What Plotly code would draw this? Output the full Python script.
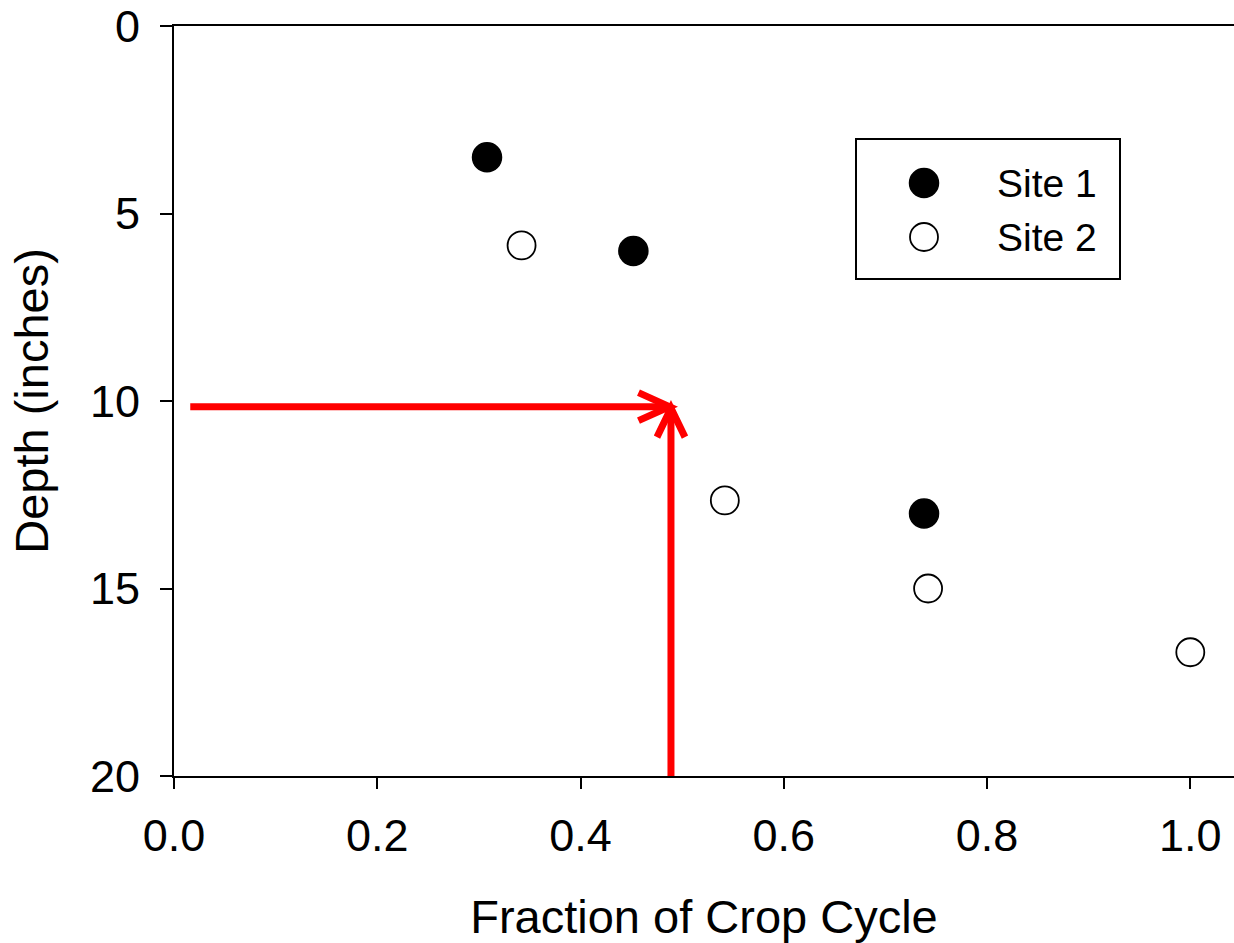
import plotly.graph_objects as go

# Observed rooting depth versus fraction of the crop cycle
site1_fraction = [0.308, 0.452, 0.738]
site1_depth = [3.5, 6.0, 13.0]

site2_fraction = [0.342, 0.542, 0.742, 1.0]
site2_depth = [5.85, 12.65, 15.0, 16.7]

series_names = ["Site 1", "Site 2"]

# Reading guide: depth 10 in. on the y axis -> fraction on the x axis
guide_start_fraction = 0.016
guide_depth = 10.15
guide_fraction = 0.489
guide_bottom_depth = 20.0

x_ticks = [0.0, 0.2, 0.4, 0.6, 0.8, 1.0]
x_tick_text = ["0.0", "0.2", "0.4", "0.6", "0.8", "1.0"]
y_ticks = [0, 5, 10, 15, 20]
y_tick_text = ["0", "5", "10", "15", "20"]

X_RANGE = [0.0, 1.043]
Y_RANGE = [20, 0]

W, H = 1234, 943
M = dict(l=174, r=0, t=26, b=167)
PLOT_W = W - M["l"] - M["r"]
PLOT_H = H - M["t"] - M["b"]
FONT = "Arial, 'Liberation Sans', sans-serif"

# pixel -> data unit conversion for drawing the chevron arrowheads
px_x = (X_RANGE[1] - X_RANGE[0]) / PLOT_W
px_y = (Y_RANGE[0] - Y_RANGE[1]) / PLOT_H


def paper_x(px):
    return (px - M["l"]) / PLOT_W


def paper_y(py):
    return 1 - (py - M["t"]) / PLOT_H


fig = go.Figure()

filled = dict(size=29, color="black", line=dict(color="black", width=1.5))
hollow = dict(size=28, color="white", line=dict(color="black", width=1.8))

fig.add_trace(go.Scatter(x=site1_fraction, y=site1_depth, mode="markers",
                         name=series_names[0], marker=filled, showlegend=False))
fig.add_trace(go.Scatter(x=site2_fraction, y=site2_depth, mode="markers",
                         name=series_names[1], marker=hollow, showlegend=False))

red = dict(color="#FF0000", width=7)
tip_h = (guide_fraction - 1.5 * px_x, guide_depth)
tip_v = (guide_fraction, guide_depth + 1.5 * px_y)

shapes = [
    # horizontal guide
    dict(type="line", xref="x", yref="y", x0=guide_start_fraction, y0=guide_depth,
         x1=tip_h[0] - 2 * px_x, y1=guide_depth, line=red),
    # vertical guide
    dict(type="line", xref="x", yref="y", x0=guide_fraction, y0=guide_bottom_depth,
         x1=guide_fraction, y1=tip_v[1] + 2 * px_y, line=red),
    # arrowheads (open chevrons)
    dict(type="path", xref="x", yref="y", line=red,
         path=(f"M {tip_h[0] - 31 * px_x},{tip_h[1] - 14 * px_y} "
               f"L {tip_h[0]},{tip_h[1]} "
               f"L {tip_h[0] - 31 * px_x},{tip_h[1] + 14 * px_y}")),
    dict(type="path", xref="x", yref="y", line=red,
         path=(f"M {tip_v[0] - 14 * px_x},{tip_v[1] + 29 * px_y} "
               f"L {tip_v[0]},{tip_v[1]} "
               f"L {tip_v[0] + 14 * px_x},{tip_v[1] + 29 * px_y}")),
    # legend frame
    dict(type="rect", xref="paper", yref="paper",
         x0=paper_x(856), x1=paper_x(1120), y0=paper_y(279), y1=paper_y(139),
         line=dict(color="black", width=2), fillcolor="white", layer="above"),
]

# legend entries: symbol + label
annotations = []
legend_rows = [183, 237]
legend_styles = [filled, hollow]
for name, row, sty in zip(series_names, legend_rows, legend_styles):
    r = sty["size"] / 2
    shapes.append(dict(
        type="circle", xref="paper", yref="paper",
        xsizemode="pixel", ysizemode="pixel",
        xanchor=paper_x(924), yanchor=paper_y(row),
        x0=-r, x1=r, y0=-r, y1=r,
        fillcolor=sty["color"], line=dict(color="black", width=sty["line"]["width"]),
        layer="above",
    ))
    annotations.append(dict(
        xref="paper", yref="paper", x=paper_x(995), y=paper_y(row),
        xanchor="left", yanchor="middle", text=name, showarrow=False,
        font=dict(family=FONT, size=39, color="black"),
    ))

fig.update_layout(
    width=W, height=H,
    margin=M,
    paper_bgcolor="white", plot_bgcolor="white",
    font=dict(family=FONT, size=45, color="black"),
    shapes=shapes,
    annotations=annotations,
    showlegend=False,
    xaxis=dict(
        range=X_RANGE, tickmode="array", tickvals=x_ticks, ticktext=x_tick_text,
        showgrid=False, zeroline=False,
        showline=True, linecolor="black", linewidth=2, mirror=True,
        ticks="outside", ticklen=11, tickwidth=2, tickcolor="black",
        ticklabelstandoff=8,
        tickfont=dict(family=FONT, size=45),
        title=dict(text="Fraction of Crop Cycle", font=dict(family=FONT, size=47), standoff=44),
    ),
    yaxis=dict(
        range=Y_RANGE, tickmode="array", tickvals=y_ticks, ticktext=y_tick_text,
        showgrid=False, zeroline=False,
        showline=True, linecolor="black", linewidth=2,
        ticks="outside", ticklen=12, tickwidth=2, tickcolor="black",
        ticklabelstandoff=11,
        tickfont=dict(family=FONT, size=45),
        title=dict(text="Depth (inches)", font=dict(family=FONT, size=47), standoff=26),
    ),
)

fig.write_html("out.html")
